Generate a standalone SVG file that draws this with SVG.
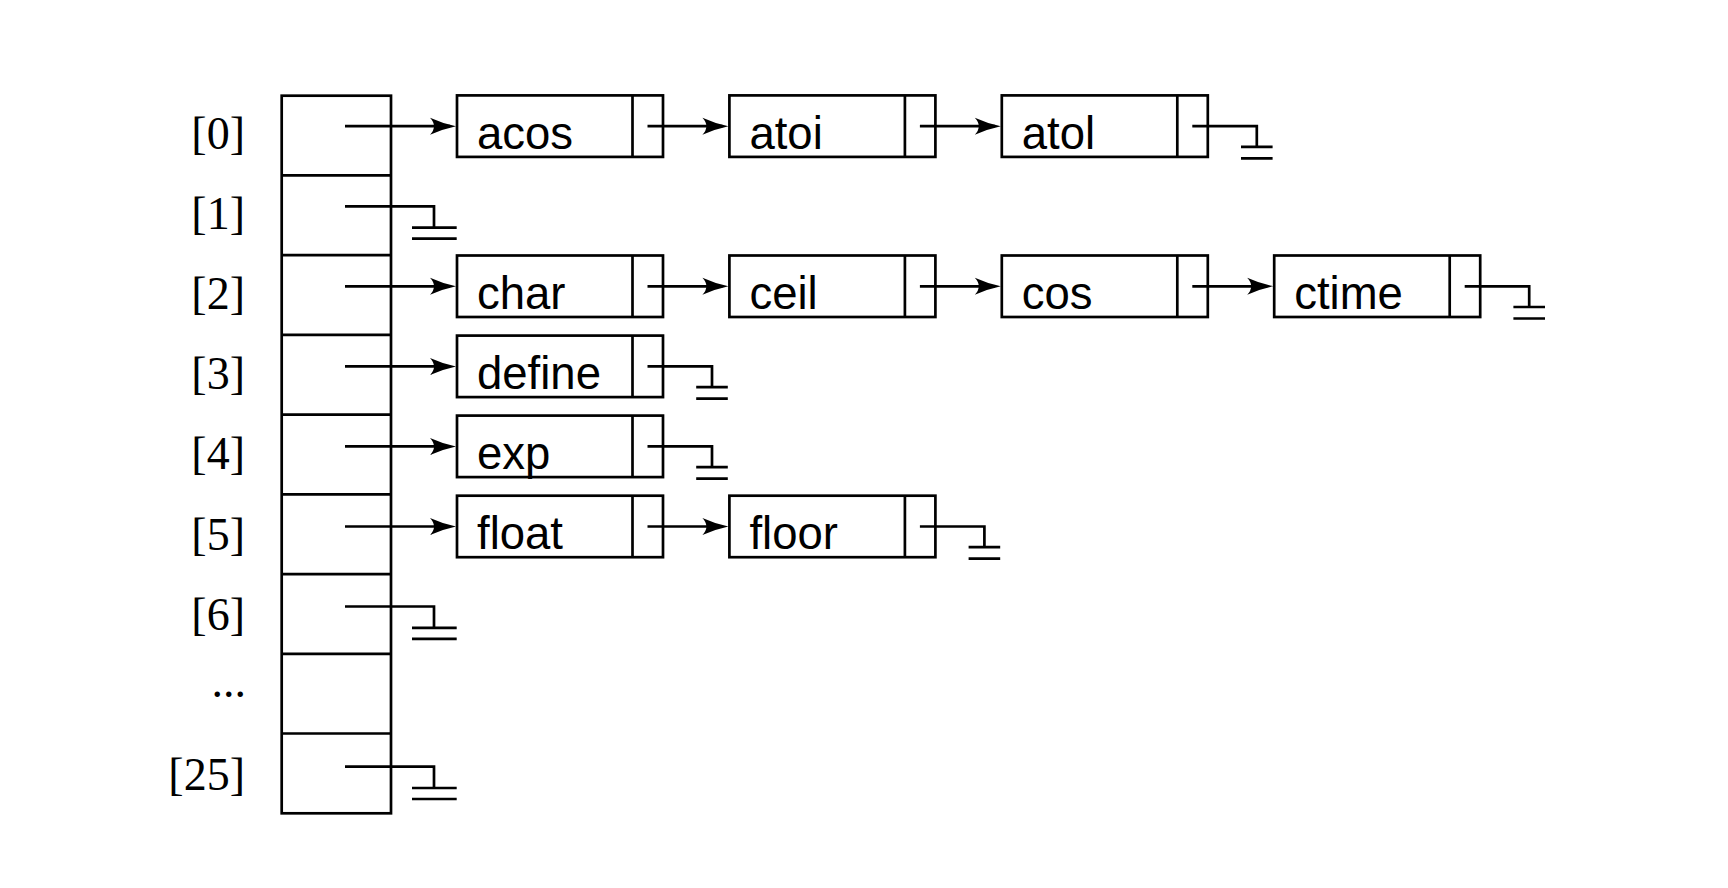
<svg xmlns="http://www.w3.org/2000/svg" width="1728" height="888" viewBox="0 0 1728 888">
<style>
.box{fill:none;stroke:#000;stroke-width:2.7}
.ln{fill:none;stroke:#000;stroke-width:2.7}
.nt{font-family:"Liberation Sans",Arial,sans-serif;font-size:45.5px;fill:#000}
.lb{font-family:"Liberation Serif","Times New Roman",serif;font-size:46px;fill:#000;text-anchor:end}
</style>
<defs>
<marker id="ah" markerUnits="userSpaceOnUse" markerWidth="30" markerHeight="20" viewBox="-22 -10 30 20" refX="0" refY="0" orient="auto">
<path d="M6,0 Q-8,-3 -20,-8.5 Q-12,0 -20,8.5 Q-8,3 6,0 Z" fill="#000"/>
</marker>
</defs>
<rect width="1728" height="888" fill="#fff"/>

<g id="array">
<rect class="box" x="281.7" y="95.7" width="109.3" height="717.6"/>
<path class="ln" d="M281.7,175.4H391M281.7,255.2H391M281.7,334.9H391M281.7,414.6H391M281.7,494.4H391M281.7,574.1H391M281.7,653.8H391M281.7,733.5H391"/>
</g>

<g id="labels">
<text class="lb" x="245" y="149.2">[0]</text>
<text class="lb" x="245" y="229.3">[1]</text>
<text class="lb" x="245" y="309.3">[2]</text>
<text class="lb" x="245" y="389.4">[3]</text>
<text class="lb" x="245" y="469.4">[4]</text>
<text class="lb" x="245" y="549.5">[5]</text>
<text class="lb" x="245" y="629.5">[6]</text>
<text class="lb" x="246" y="697">...</text>
<text class="lb" x="245" y="789.6">[25]</text>
</g>

<g id="node-acos" transform="translate(457,95.4)"><rect class="box" width="206" height="61.5"/><path class="ln" d="M175.5,0V61.5"/><text class="nt" x="20" y="53.3">acos</text></g>
<g id="node-atoi" transform="translate(729.4,95.4)"><rect class="box" width="206" height="61.5"/><path class="ln" d="M175.5,0V61.5"/><text class="nt" x="20" y="53.3">atoi</text></g>
<g id="node-atol" transform="translate(1001.8,95.4)"><rect class="box" width="206" height="61.5"/><path class="ln" d="M175.5,0V61.5"/><text class="nt" x="20" y="53.3">atol</text></g>

<g id="node-char" transform="translate(457,255.5)"><rect class="box" width="206" height="61.5"/><path class="ln" d="M175.5,0V61.5"/><text class="nt" x="20" y="53.3">char</text></g>
<g id="node-ceil" transform="translate(729.4,255.5)"><rect class="box" width="206" height="61.5"/><path class="ln" d="M175.5,0V61.5"/><text class="nt" x="20" y="53.3">ceil</text></g>
<g id="node-cos" transform="translate(1001.8,255.5)"><rect class="box" width="206" height="61.5"/><path class="ln" d="M175.5,0V61.5"/><text class="nt" x="20" y="53.3">cos</text></g>
<g id="node-ctime" transform="translate(1274.2,255.5)"><rect class="box" width="206" height="61.5"/><path class="ln" d="M175.5,0V61.5"/><text class="nt" x="20" y="53.3">ctime</text></g>

<g id="node-define" transform="translate(457,335.6)"><rect class="box" width="206" height="61.5"/><path class="ln" d="M175.5,0V61.5"/><text class="nt" x="20" y="53.3">define</text></g>

<g id="node-exp" transform="translate(457,415.6)"><rect class="box" width="206" height="61.5"/><path class="ln" d="M175.5,0V61.5"/><text class="nt" x="20" y="53.3">exp</text></g>

<g id="node-float" transform="translate(457,495.7)"><rect class="box" width="206" height="61.5"/><path class="ln" d="M175.5,0V61.5"/><text class="nt" x="20" y="53.3">float</text></g>
<g id="node-floor" transform="translate(729.4,495.7)"><rect class="box" width="206" height="61.5"/><path class="ln" d="M175.5,0V61.5"/><text class="nt" x="20" y="53.3">floor</text></g>

<g id="connectors">
<path class="ln" marker-end="url(#ah)" d="M345,126.2H450"/>
<path class="ln" marker-end="url(#ah)" d="M345,286.3H450"/>
<path class="ln" marker-end="url(#ah)" d="M345,366.4H450"/>
<path class="ln" marker-end="url(#ah)" d="M345,446.4H450"/>
<path class="ln" marker-end="url(#ah)" d="M345,526.5H450"/>
<path class="ln" marker-end="url(#ah)" d="M647.5,126.2H722.4"/>
<path class="ln" marker-end="url(#ah)" d="M919.9,126.2H994.8"/>
<path class="ln" marker-end="url(#ah)" d="M647.5,286.3H722.4"/>
<path class="ln" marker-end="url(#ah)" d="M919.9,286.3H994.8"/>
<path class="ln" marker-end="url(#ah)" d="M1192.3,286.3H1267.2"/>
<path class="ln" marker-end="url(#ah)" d="M647.5,526.5H722.4"/>
<path class="ln" d="M345,206.3H434V227.7M412,227.7H456.7M412,238.7H456.7"/>
<path class="ln" d="M345,606.5H434V627.9M412,627.9H456.7M412,638.9H456.7"/>
<path class="ln" d="M345,766.6H434V788M412,788H456.7M412,799H456.7"/>
<path class="ln" d="M1192.3,126.2H1256.8V146.9M1241,146.9H1272.6M1241,158.4H1272.6"/>
<path class="ln" d="M1464.7,286.3H1529.2V307M1513.4,307H1545M1513.4,318.5H1545"/>
<path class="ln" d="M647.5,366.4H712V387.1M696.2,387.1H727.8M696.2,398.6H727.8"/>
<path class="ln" d="M647.5,446.4H712V467.1M696.2,467.1H727.8M696.2,478.6H727.8"/>
<path class="ln" d="M919.9,526.5H984.4V547.2M968.6,547.2H1000.2M968.6,558.7H1000.2"/>
</g>
</svg>
